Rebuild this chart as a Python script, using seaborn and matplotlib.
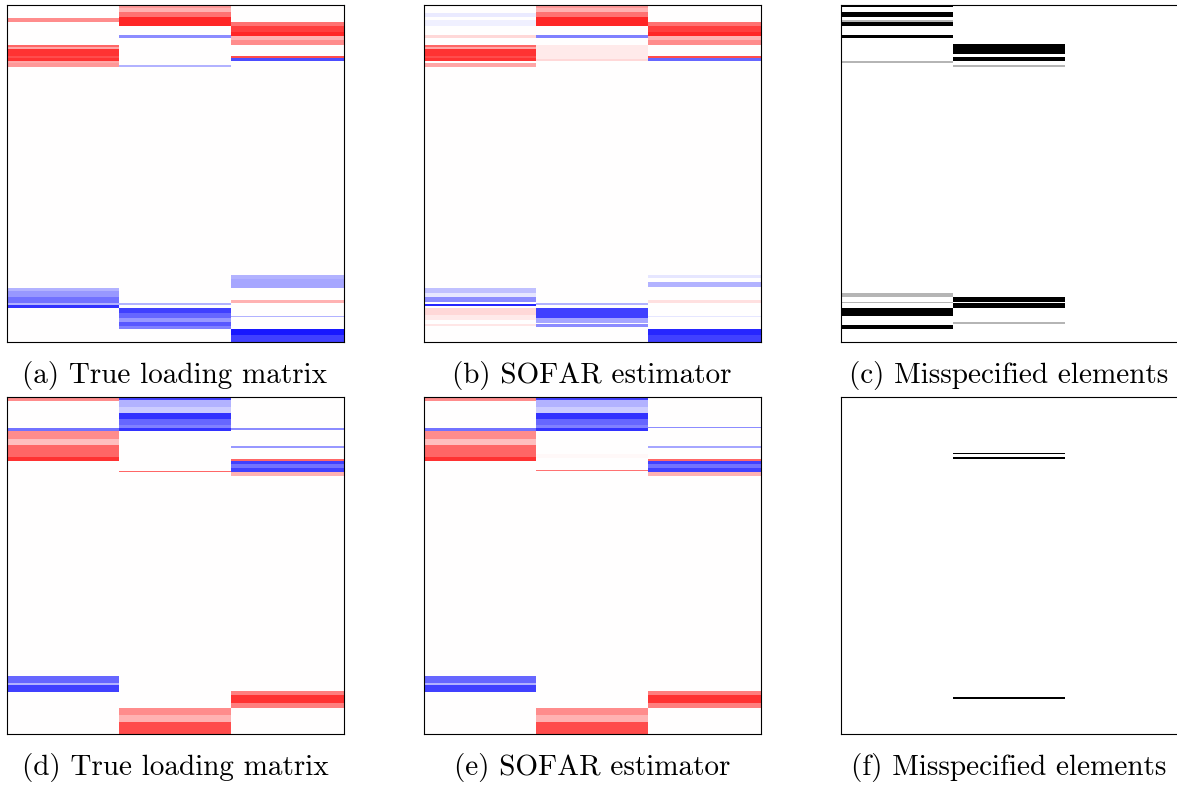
import numpy as np
import pandas as pd
import seaborn as sns
import matplotlib
matplotlib.use("Agg")
import matplotlib.pyplot as plt

sns.set_style("white")
plt.rcParams["font.family"] = ["cmr10", "DejaVu Serif"]

P = 300  # rows of the loading matrix

# each run: (first row, last row exclusive, loading); + red, - blue
a_c1 = [(12, 15, 0.45), (36, 37, 0.6), (37, 39, 0.35), (39, 45, 0.8), (45, 47, 0.7),
        (47, 50, 0.8), (50, 52, 0.35), (52, 55, 0.4),
        (252, 255, -0.3), (255, 260, -0.4), (260, 265, -0.55), (265, 267, -0.3), (267, 270, -0.8)]
a_c2 = [(0, 3, 0.4), (3, 6, 0.3), (6, 11, 0.55), (11, 19, 0.85), (27, 29, -0.45), (53, 55, -0.3),
        (265, 267, -0.3), (270, 274, -0.75), (274, 279, -0.6), (279, 282, -0.4),
        (282, 286, -0.65), (286, 288, -0.5)]
a_c3 = [(15, 19, 0.55), (19, 24, 0.75), (24, 28, 0.85), (28, 31, 0.3), (31, 36, 0.45),
        (45, 47, 0.7), (47, 50, -0.7),
        (240, 244, -0.3), (244, 252, -0.35), (263, 265, 0.3), (277, 278, -0.3),
        (288, 294, -0.9), (294, 300, -0.75)]

b_c1 = [(7, 11, -0.08), (13, 19, -0.06), (27, 29, 0.15), (36, 37, 0.6), (37, 39, 0.35),
        (39, 45, 0.8), (45, 47, 0.7), (47, 50, 0.8), (52, 55, 0.35),
        (252, 256, -0.25), (256, 260, -0.1), (260, 264, -0.45), (266, 268, -0.85),
        (270, 276, 0.15), (276, 280, 0.08), (284, 286, 0.1)]
b_c2 = [(0, 3, 0.4), (3, 6, 0.3), (6, 11, 0.55), (11, 19, 0.85), (27, 29, -0.5),
        (36, 48, 0.08), (48, 50, 0.15),
        (265, 267, -0.3), (270, 279, -0.75), (279, 283, -0.35), (284, 287, -0.45)]
b_c3 = [(15, 19, 0.55), (19, 24, 0.75), (24, 28, 0.85), (28, 31, 0.3), (31, 36, 0.45),
        (45, 47, 0.7), (47, 50, -0.6),
        (240, 243, -0.1), (247, 251, -0.3), (263, 265, 0.12), (277, 278, -0.1),
        (288, 294, -0.85), (294, 300, -0.75)]

# misspecified: 1 black, 0.4 grey
c_c1 = [(0, 2, 1), (6, 11, 1), (13, 15, 0.4), (15, 19, 1), (27, 29, 1), (50, 52, 0.4),
        (256, 260, 0.4), (264, 265, 0.4), (270, 277, 1), (285, 288, 1)]
c_c2 = [(35, 44, 1), (46, 50, 1), (53, 55, 0.4),
        (260, 264, 1), (265, 270, 1), (282, 284, 0.4)]
c_c3 = []

d_c1 = [(0, 4, 0.45), (28, 30, -0.55), (30, 37, 0.45), (37, 43, 0.25), (43, 53, 0.6), (53, 57, 0.8),
        (248, 255, -0.6), (255, 256, -0.3), (256, 263, -0.75)]
d_c2 = [(0, 3, -0.75), (3, 9, -0.3), (9, 14, -0.2), (14, 20, -0.8), (20, 25, -0.6),
        (25, 28, -0.5), (28, 30, -0.8), (66, 67, 0.6),
        (277, 283, 0.45), (283, 289, 0.3), (289, 300, 0.7)]
d_c3 = [(28, 29, -0.45), (44, 45, -0.4), (55, 57, 0.6), (57, 60, -0.75), (60, 63, -0.55),
        (63, 67, -0.75), (67, 70, 0.3),
        (262, 265, 0.5), (265, 272, 0.8), (272, 277, 0.5)]

e_c1 = [(0, 4, 0.45), (28, 30, -0.55), (30, 37, 0.45), (37, 43, 0.25), (43, 53, 0.6), (53, 57, 0.8),
        (248, 255, -0.6), (255, 256, -0.3), (256, 263, -0.75)]
e_c2 = [(0, 3, -0.75), (3, 9, -0.3), (9, 14, -0.2), (14, 20, -0.8), (20, 25, -0.6),
        (25, 28, -0.5), (28, 30, -0.8), (51, 54, 0.03), (65, 66, 0.55),
        (277, 283, 0.45), (283, 289, 0.3), (289, 300, 0.7)]
e_c3 = [(27, 28, -0.45), (44, 45, -0.35), (55, 57, 0.6), (57, 60, -0.75), (60, 63, -0.55),
        (63, 67, -0.75), (67, 70, 0.3),
        (262, 265, 0.5), (265, 272, 0.8), (272, 277, 0.5)]

f_c1 = []
f_c2 = [(50, 51, 1), (53, 55, 1), (267, 269, 1)]
f_c3 = []

captions = ["(a) True loading matrix", "(b) SOFAR estimator", "(c) Misspecified elements",
            "(d) True loading matrix", "(e) SOFAR estimator", "(f) Misspecified elements"]
panels = [(a_c1, a_c2, a_c3), (b_c1, b_c2, b_c3), (c_c1, c_c2, c_c3),
          (d_c1, d_c2, d_c3), (e_c1, e_c2, e_c3), (f_c1, f_c2, f_c3)]


def build(cols):
    m = np.zeros((P, len(cols)))
    for j, runs in enumerate(cols):
        for r0, r1, v in runs:
            m[r0:r1, j] = v
    return pd.DataFrame(m)


W, H = 1177, 787
fig = plt.figure(figsize=(W / 100, H / 100), dpi=100)
lefts = [6.5, 423.5, 840.5]
tops = [5, 397]
size = 337

for k, (cols, cap) in enumerate(zip(panels, captions)):
    row, col = divmod(k, 3)
    l = lefts[col]
    t = tops[row]
    ax = fig.add_axes([l / W, 1 - (t + size) / H, size / W, size / H])
    df = build(cols)
    if col == 2:
        sns.heatmap(df, ax=ax, cmap="Greys", vmin=0, vmax=1, cbar=False,
                    xticklabels=False, yticklabels=False)
    else:
        sns.heatmap(df, ax=ax, cmap="bwr", vmin=-1, vmax=1, cbar=False,
                    xticklabels=False, yticklabels=False)
    for s in ax.spines.values():
        s.set_visible(True)
        s.set_color("black")
        s.set_linewidth(0.8)
    ax.set_xlabel("")
    ax.set_ylabel("")
    fig.text((l + size / 2) / W, 1 - (t + size + 34) / H, cap,
             ha="center", va="center", fontsize=21, color="black")

fig.savefig("out.png", dpi=100)
